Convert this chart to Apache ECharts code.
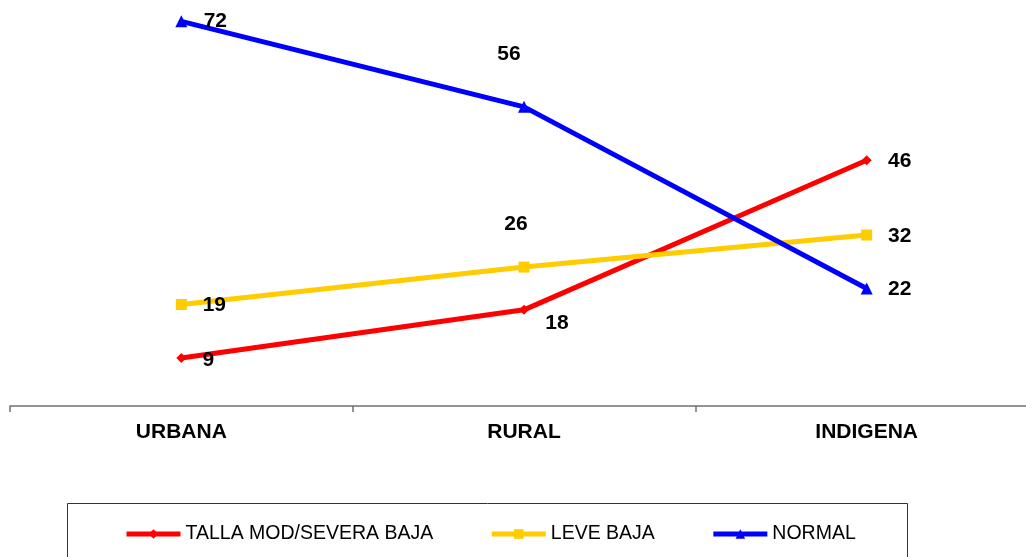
<!DOCTYPE html>
<html>
<head>
<meta charset="utf-8">
<script src="https://cdn.jsdelivr.net/npm/echarts@6/dist/echarts.min.js"></script>
<style>
  html, body { margin: 0; padding: 0; background: #fff; overflow: hidden; }
  #main { width: 1040px; height: 557px; }
</style>
</head>
<body>
<div id="main"></div>
<script>
// datos
const categorias = ['URBANA', 'RURAL', 'INDIGENA']
const tallaModSevera = [9, 18, 46]
const leveBaja = [19, 26, 32]
const normal = [72, 56, 22]

// desplazamiento de etiquetas (px) respecto al punto
const offTalla = [[27, 2], [33, 13], [33, 1]]
const offLeve = [[33, 1], [-8, -43], [33, 1]]
const offNormal = [[34, 0], [-15, -53], [33, 1]]

const FONT = 'Liberation Sans, Arial, sans-serif'

function conEtiquetas (valores, offs) {
  return valores.map((v, i) => ({
    value: v,
    label: { offset: offs[i] }
  }))
}

function serie (nombre, valores, offs, color, simbolo, tam) {
  return {
    name: nombre,
    type: 'line',
    data: conEtiquetas(valores, offs),
    symbol: simbolo,
    symbolSize: tam,
    lineStyle: { color: color, width: 5 },
    itemStyle: { color: color },
    label: {
      show: true,
      position: 'inside',
      color: '#000',
      fontSize: 21,
      fontWeight: 'bold',
      fontFamily: FONT
    },
    emphasis: { disabled: true },
    animation: false
  }
}

const chart = echarts.init(document.getElementById('main'))
chart.setOption({
  backgroundColor: '#fff',
  animation: false,
  grid: { left: 10, right: 2, top: 0, bottom: 151 },
  xAxis: {
    type: 'category',
    data: categorias,
    boundaryGap: true,
    axisLine: { lineStyle: { color: '#707070', width: 1.5 } },
    axisTick: { show: true, length: 6, lineStyle: { color: '#707070', width: 1.5 } },
    axisLabel: {
      color: '#000',
      fontSize: 21,
      fontWeight: 'bold',
      fontFamily: FONT,
      margin: 16
    },
    splitLine: { show: false }
  },
  yAxis: {
    type: 'value',
    min: 0,
    max: 76,
    show: false
  },
  legend: {
    left: 124,
    top: 524,
    padding: 0,
    itemWidth: 54,
    itemHeight: 12,
    itemGap: 56,
    lineStyle: { width: 5 },
    textStyle: { fontSize: 19.5, color: '#000', fontFamily: FONT },
    selectedMode: false
  },
  graphic: [{
    type: 'rect',
    shape: { x: 67.5, y: 503.5, width: 840, height: 80 },
    style: { fill: 'none', stroke: '#333', lineWidth: 1 },
    silent: true
  }],
  series: [
    serie('TALLA MOD/SEVERA BAJA', tallaModSevera, offTalla, '#ff0000', 'diamond', 10),
    serie('LEVE BAJA', leveBaja, offLeve, '#ffcc00', 'rect', 11),
    serie('NORMAL', normal, offNormal, '#0000ff', 'triangle', 12)
  ]
})
</script>
</body>
</html>
